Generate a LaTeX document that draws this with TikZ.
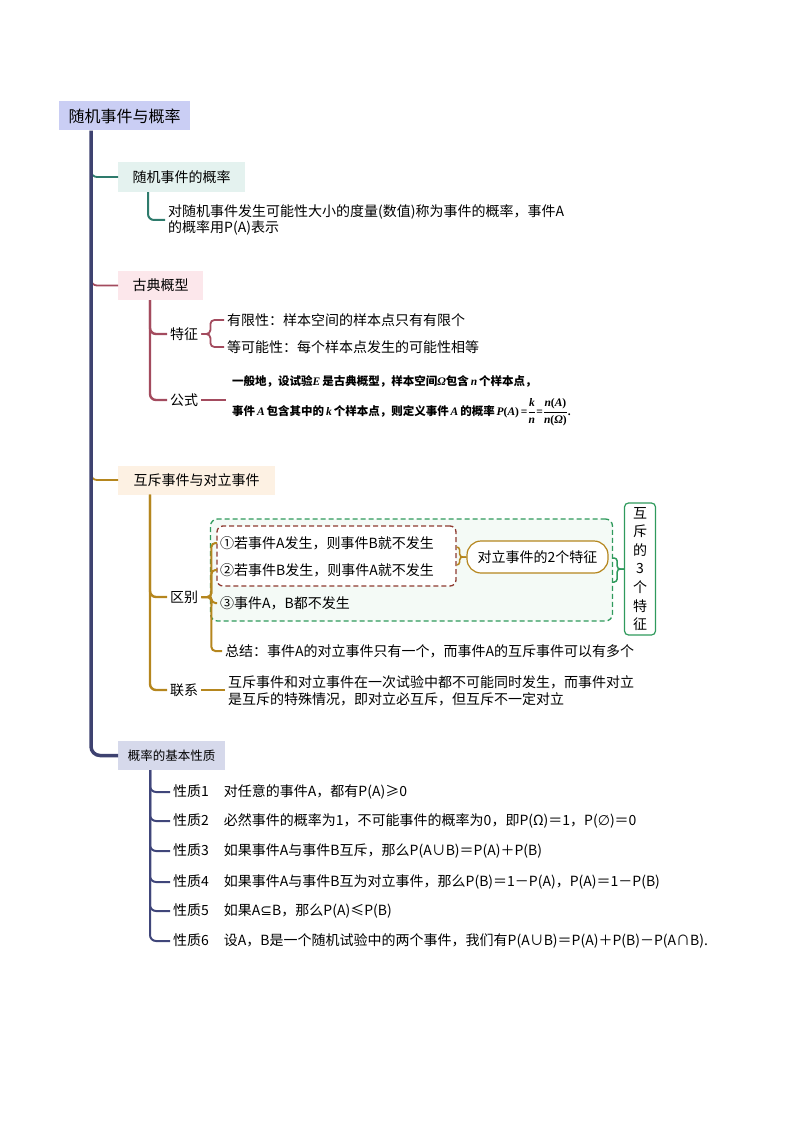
\documentclass[tikz,border=0pt]{standalone}
\usepackage{fontspec}
\setmainfont{Noto Sans CJK SC}
\newfontfamily\fmfont{Liberation Serif}
\newfontfamily\symfont{DejaVu Sans}
\usetikzlibrary{calc}

\definecolor{rootfill}{HTML}{CACEF4}
\definecolor{trunkc}{HTML}{3E4270}
\definecolor{tealc}{HTML}{2E7B6C}
\definecolor{tealfill}{HTML}{E4F2EF}
\definecolor{maroonc}{HTML}{A34B5E}
\definecolor{maroonfill}{HTML}{FCE7EB}
\definecolor{goldc}{HTML}{B5861E}
\definecolor{goldfill}{HTML}{FDF1E3}
\definecolor{navyc}{HTML}{40467A}
\definecolor{navyfill}{HTML}{D6D9EB}
\definecolor{greenc}{HTML}{2F9A5C}
\definecolor{greenfill}{HTML}{F4FAF6}
\definecolor{redc}{HTML}{8E3B30}

\newcommand{\fv}[1]{{\fmfont\bfseries\itshape #1}}
\newcommand{\fr}[1]{{\fmfont\bfseries #1}}

\tikzset{
  topic/.style={anchor=west,minimum height=29pt,inner sep=0pt,font=\fontsize{14}{17}\selectfont},
  txt/.style={anchor=west,inner xsep=3pt,inner ysep=0pt,align=left,font=\fontsize{14}{16.5}\selectfont},
  fml/.style={anchor=base west,inner sep=0pt,font=\fontsize{11.5}{14}\selectfont\bfseries},
  br/.style={line width=1.8pt,rounded corners=6pt},
  sub/.style={line width=2.4pt,rounded corners=6pt},
  leaf/.style={line width=1.5pt,rounded corners=4pt}
}

\begin{document}
\begin{tikzpicture}[x=1pt,y=-1pt]
\useasboundingbox (0,0) rectangle (794,1123);

% main topics
\node[topic,fill=rootfill,minimum width=131pt,font=\fontsize{16}{19}\selectfont] (root) at (59,116) {随机事件与概率};
\coordinate (tk) at ([xshift=32pt]root.south west);
\node[topic,fill=tealfill,minimum width=127pt,minimum height=30pt] (p1) at (118,177) {随机事件的概率};
\node[topic,fill=maroonfill,minimum width=85pt] (p2) at (118,285.5) {古典概型};
\node[topic,fill=goldfill,minimum width=157pt] (p3) at (118,480) {互斥事件与对立事件};
\node[topic,fill=navyfill,minimum width=107pt,font=\fontsize{12.5}{15}\selectfont] (p4) at (118,755.5) {概率的基本性质};

% random event probability
\node[txt] (d1) at (165,220) {对随机事件发生可能性大小的度量(数值)称为事件的概率，事件A\\的概率用P(A)表示};

% classical model
\node[txt] (tz) at (167,334) {特征};
\node[txt] (z1) at (224,320) {有限性：样本空间的样本点只有有限个};
\node[txt] (z2) at (224,347) {等可能性：每个样本点发生的可能性相等};
\node[txt] (gs) at (167,400) {公式};
\coordinate (gsend) at (226,400);
\node[fml] (fm1) at (232,385) {一般地，设试验\fv{E}\,是古典概型，样本空间\fv{Ω}包含\,\fv{n}\,个样本点，};
\node[fml] (fm2) at (232,415) {事件\,\fv{A}\,包含其中的\,\fv{k}\,个样本点，则定义事件\,\fv{A}\,的概率\,\fv{P}\fr{(}\fv{A}\fr{)\,=}\(\displaystyle\frac{\hbox{\fv{k}}}{\hbox{\fv{n}}}\)\fr{=}\(\displaystyle\frac{\hbox{\fv{n}\fr{(}\fv{A}\fr{)}}}{\hbox{\fv{n}\fr{(}\fv{Ω}\fr{)}}}\)\fr{.}};

% mutually exclusive and opposite events
\node[draw=greenc,dashed,dash pattern=on 5pt off 3pt,line width=1.3pt,rounded corners=7pt,fill=greenfill,minimum width=402pt,minimum height=102pt] (gb) at (411.5,570) {};
\node[draw=redc,dashed,dash pattern=on 5pt off 3pt,line width=1.3pt,rounded corners=6pt,fill=white,minimum width=239pt,minimum height=60pt] (rb) at (336.5,556) {};
\node[txt] (qb) at (167,597) {区别};
\node[txt] (x1) at (217,543) {①若事件A发生，则事件B就不发生};
\node[txt] (x2) at (217,570) {②若事件B发生，则事件A就不发生};
\node[txt] (x3) at (217,603) {③事件A，B都不发生};
\node[txt] (zj) at (222,651) {总结：事件A的对立事件只有一个，而事件A的互斥事件可以有多个};
\node[draw=goldc,line width=1.2pt,rounded corners=14pt,fill=white,minimum width=141pt,minimum height=32pt,font=\fontsize{14}{17}\selectfont] (dl) at (537.5,557) {对立事件的2个特征};
\node[draw=greenc,line width=1.2pt,rounded corners=4pt,fill=white,minimum width=31pt,minimum height=132pt,align=center,font=\fontsize{14}{18.6}\selectfont] (hc) at (640,569) {互\\斥\\的\\3\\个\\特\\征};
\node[txt] (lx) at (167,690) {联系};
\node[txt] (lxt) at (225,691) {互斥事件和对立事件在一次试验中都不可能同时发生，而事件对立\\是互斥的特殊情况，即对立必互斥，但互斥不一定对立};

% branches from the trunk
\draw[br,draw=tealc] (tk |- p1.west) ++(0,-8) |- (p1.west);
\draw[br,draw=maroonc] (tk |- p2.west) ++(0,-8) |- (p2.west);
\draw[br,draw=goldc] (tk |- p3.west) ++(0,-8) |- (p3.west);
\draw[line width=3.5pt,draw=trunkc,rounded corners=9pt] (tk) |- (p4.west);

% second level
\draw[sub,draw=tealc,line width=2pt] ([xshift=30pt]p1.south west) |- (d1.west);
\draw[sub,draw=maroonc] ([xshift=32pt]p2.south west) |- (tz.west);
\draw[sub,draw=maroonc] ([xshift=32pt]p2.south west) |- (gs.west);
\draw[sub,draw=goldc] ([xshift=32pt]p3.south west) |- (qb.west);
\draw[sub,draw=goldc] ([xshift=32pt]p3.south west) |- (lx.west);

% leaves
\draw[leaf,draw=maroonc,line width=1.8pt] (tz.east) -- ++(9,0) |- (z1.west);
\draw[leaf,draw=maroonc,line width=1.8pt] (tz.east) -- ++(9,0) |- (z2.west);
\draw[leaf,draw=maroonc,line width=1.8pt] (gs.east) -- (gs.east -| gsend);
\draw[leaf,draw=goldc,line width=2pt] (qb.east) -- ++(10,0) |- (x1.west);
\draw[leaf,draw=goldc,line width=2pt] (qb.east) -- ++(10,0) |- (x2.west);
\draw[leaf,draw=goldc,line width=2pt] (qb.east) -- ++(10,0) |- (x3.west);
\draw[leaf,draw=goldc,line width=2pt] (qb.east) -- ++(10,0) |- (zj.west);
\draw[leaf,draw=goldc,line width=1.8pt] (lx.east) -- (lx.east -| lxt.west);
\draw[leaf,draw=goldc,rounded corners=3pt] ([yshift=9pt]rb.east) -- ++(3,0) |- (dl.west);
\draw[leaf,draw=goldc,rounded corners=3pt] ([yshift=-9pt]rb.east) -- ++(3,0) |- (dl.west);
\draw[leaf,draw=greenc,rounded corners=3pt] ([yshift=12pt]gb.east) -- ++(4,0) |- (hc.west);
\draw[leaf,draw=greenc,rounded corners=3pt] ([yshift=-12pt]gb.east) -- ++(4,0) |- (hc.west);

% basic properties
\foreach \i/\y/\t in {1/792/{对任意的事件A，都有P(A)≥0},
    2/821/{必然事件的概率为1，不可能事件的概率为0，即P(Ω)＝1，P({\symfont ∅})＝0},
    3/851/{如果事件A与事件B互斥，那么P(A∪B)＝P(A)＋P(B)},
    4/882/{如果事件A与事件B互为对立事件，那么P(B)＝1－P(A)，P(A)＝1－P(B)},
    5/911/{如果A{\symfont ⊆}B，那么P(A)≤P(B)},
    6/941/{设A，B是一个随机试验中的两个事件，我们有P(A∪B)＝P(A)＋P(B)－P(A∩B).}}{
  \node[txt] (xz\i) at (170,\y) {性质\i\hspace{15pt}\t};
  \draw[sub,draw=navyc,line width=2pt] ([xshift=32pt]p4.south west) |- (xz\i.west);
}
\end{tikzpicture}
\end{document}
